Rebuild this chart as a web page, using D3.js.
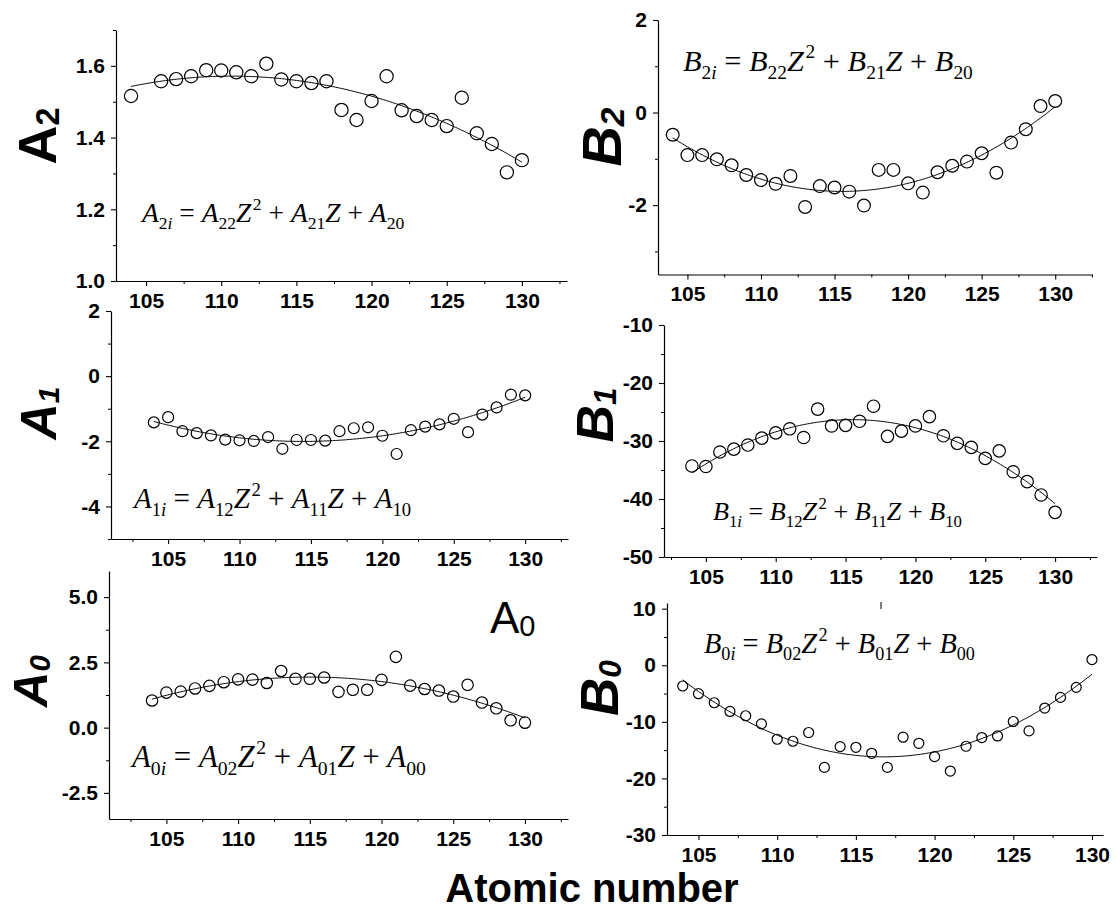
<!DOCTYPE html>
<html>
<head>
<meta charset="utf-8">
<script src="https://cdn.jsdelivr.net/npm/d3@7"></script>
<style>
  body { margin: 0; background: #fff; }
  svg { display: block; }
</style>
</head>
<body>
<svg id="chart" width="1116" height="910"></svg>
<script>
// Atomic numbers of the fitted series
const zFull = [104,105,106,107,108,109,110,111,112,113,114,115,116,117,118,119,120,121,122,123,124,125,126,127,128,129,130];
const zA2   = [104,106,107,108,109,110,111,112,113,114,115,116,117,118,119,120,121,122,123,124,125,126,127,128,129,130];

// Coefficient values per element
const valuesA2 = [1.516,1.557,1.563,1.571,1.588,1.587,1.582,1.571,1.606,1.562,1.557,1.552,1.557,1.477,1.449,1.502,1.571,1.476,1.460,1.449,1.432,1.511,1.412,1.382,1.303,1.337];
const valuesB2 = [-0.48,-0.92,-0.92,-1.01,-1.14,-1.35,-1.46,-1.54,-1.37,-2.04,-1.59,-1.62,-1.71,-2.01,-1.24,-1.24,-1.53,-1.73,-1.29,-1.15,-1.06,-0.88,-1.30,-0.65,-0.36,0.14,0.25];
const valuesA1 = [-1.42,-1.26,-1.69,-1.75,-1.82,-1.95,-1.97,-1.99,-1.87,-2.23,-1.96,-1.96,-1.98,-1.69,-1.60,-1.57,-1.83,-2.39,-1.66,-1.55,-1.48,-1.31,-1.72,-1.18,-0.96,-0.57,-0.59];
const valuesB1 = [-34.3,-34.4,-31.9,-31.4,-30.7,-29.5,-28.6,-27.9,-29.4,-24.5,-27.4,-27.3,-26.6,-24.0,-29.2,-28.3,-27.4,-25.8,-29.1,-30.4,-31.1,-33.0,-31.7,-35.3,-37.0,-39.3,-42.3];
const valuesA0 = [1.04,1.34,1.38,1.50,1.60,1.74,1.85,1.84,1.71,2.17,1.87,1.87,1.92,1.37,1.45,1.45,1.83,2.71,1.61,1.48,1.42,1.19,1.64,0.96,0.74,0.28,0.19];
const valuesB0 = [-3.67,-5.03,-6.63,-8.17,-8.93,-10.36,-13.08,-13.43,-11.89,-18.05,-14.38,-14.50,-15.56,-18.05,-12.72,-13.79,-16.15,-18.70,-14.32,-12.78,-12.49,-9.94,-11.60,-7.57,-5.68,-3.91,1.01];

// Tick labels
const xMajorTicks = [105,110,115,120,125,130];
const xMinorTicks = [102.5,107.5,112.5,117.5,122.5,127.5,132.5];
const yTicksA2 = [1.0,1.2,1.4,1.6];     const yMinorA2 = [1.1,1.3,1.5,1.7];
const yTicksB2 = [-2,0,2];             const yMinorB2 = [-3,-1,1];
const yTicksA1 = [-4,-2,0,2];          const yMinorA1 = [-5,-3,-1,1];
const yTicksB1 = [-50,-40,-30,-20,-10]; const yMinorB1 = [-45,-35,-25,-15];
const yTicksA0 = [-2.5,0.0,2.5,5.0];   const yMinorA0 = [-1.25,1.25,3.75];
const yTicksB0 = [-30,-20,-10,0,10];   const yMinorB0 = [-25,-15,-5,5];

const xTitle = "Atomic number";

const svg = d3.select("#chart");
const SANS = "'Liberation Sans', Arial, Helvetica, sans-serif";
const SERIF = "'Liberation Serif', 'Times New Roman', serif";

// number format with a plain hyphen for negatives
const fmt = spec => d => d3.format(spec)(d).replace("\u2212", "-");

// Least-squares quadratic through (z, v)
function quadFit(zs, vs) {
  const c = 117;
  let S = [[0,0,0],[0,0,0],[0,0,0]], T = [0,0,0];
  zs.forEach((z, i) => {
    const t = z - c, p = [1, t, t * t];
    for (let a = 0; a < 3; a++) {
      T[a] += p[a] * vs[i];
      for (let b = 0; b < 3; b++) S[a][b] += p[a] * p[b];
    }
  });
  const M = S.map((row, i) => row.concat([T[i]]));
  for (let i = 0; i < 3; i++) {
    let piv = i;
    for (let k = i + 1; k < 3; k++) if (Math.abs(M[k][i]) > Math.abs(M[piv][i])) piv = k;
    [M[i], M[piv]] = [M[piv], M[i]];
    for (let k = i + 1; k < 3; k++) {
      const f = M[k][i] / M[i][i];
      for (let j = i; j < 4; j++) M[k][j] -= f * M[i][j];
    }
  }
  const coef = [0,0,0];
  for (let i = 2; i >= 0; i--) {
    let s = M[i][3];
    for (let j = i + 1; j < 3; j++) s -= M[i][j] * coef[j];
    coef[i] = s / M[i][i];
  }
  return z => coef[0] + coef[1] * (z - c) + coef[2] * (z - c) * (z - c);
}

// Equation tokens: X_{ki} = X_{k2} Z^2 + X_{k1} Z + X_{k0}
function eqTokens(sym, k) {
  return [
    {t: sym, it: 1}, {t: k, sub: 1}, {t: "i", sub: 1, it: 1}, {t: " = "},
    {t: sym, it: 1}, {t: k + "2", sub: 1}, {t: "Z", it: 1}, {t: "\u200a2", sup: 1}, {t: " + "},
    {t: sym, it: 1}, {t: k + "1", sub: 1}, {t: "Z", it: 1}, {t: " + "},
    {t: sym, it: 1}, {t: k + "0", sub: 1}
  ];
}

function buildEquation(g, eq, fs) {
  const text = g.append("text")
    .attr("x", eq.x).attr("y", eq.y)
    .attr("font-family", SERIF).attr("font-size", fs)
    .style("white-space", "pre").attr("fill", "#000");
  let cur = 0;
  eqTokens(eq.sym, eq.k).forEach(t => {
    const target = t.sub ? 0.26 * fs : t.sup ? -0.42 * fs : 0;
    text.append("tspan")
      .attr("dy", target - cur)
      .attr("font-size", (t.sub || t.sup) ? fs * 0.64 : fs)
      .attr("font-style", t.it ? "italic" : "normal")
      .text(t.t);
    cur = target;
  });
  return text;
}

const panels = [
  { z: zA2,   v: valuesA2, xDomain: [103,133],   xRange: [116,567],  yDomain: [1.0,1.7], yRange: [281,30],
    yTicks: yTicksA2, yMinor: yMinorA2, yFmt: ".1f", r: 6.6,
    title: {sym: "A", sub: "2", it: false, x: 56, y: 136, fs: 54},
    eq: {sym: "A", k: "2", x: 142, y: 222, w: 265} },
  { z: zFull, v: valuesB2, xDomain: [103,132.5], xRange: [658,1092], yDomain: [-3.5,2],  yRange: [274.5,20],
    yTicks: yTicksB2, yMinor: yMinorB2, yFmt: "d", r: 6.4,
    title: {sym: "B", sub: "2", it: true, x: 621, y: 137, fs: 56},
    eq: {sym: "B", k: "2", x: 683, y: 71, w: 290} },
  { z: zFull, v: valuesA1, xDomain: [101,133],   xRange: [111,568],  yDomain: [-5,2],    yRange: [539,311],
    yTicks: yTicksA1, yMinor: yMinorA1, yFmt: "d", r: 5.5,
    title: {sym: "A", sub: "1", it: true, x: 56, y: 413, fs: 50},
    eq: {sym: "A", k: "1", x: 134, y: 508, w: 280} },
  { z: zFull, v: valuesB1, xDomain: [102,133],   xRange: [664,1097], yDomain: [-50,-10], yRange: [557,325],
    yTicks: yTicksB1, yMinor: yMinorB1, yFmt: "d", r: 6.2,
    title: {sym: "B", sub: "1", it: true, x: 613, y: 415, fs: 52},
    eq: {sym: "B", k: "1", x: 713, y: 520, w: 249} },
  { z: zFull, v: valuesA0, xDomain: [101,133],   xRange: [109,568],  yDomain: [-3.5,6],  yRange: [819,571],
    yTicks: yTicksA0, yMinor: yMinorA0, yFmt: ".1f", r: 5.7,
    title: {sym: "A", sub: "0", it: true, x: 47, y: 681, fs: 49},
    eq: {sym: "A", k: "0", x: 132, y: 767, w: 297} },
  { z: zFull, v: valuesB0, xDomain: [103,130.7], xRange: [667,1103], yDomain: [-30,11],  yRange: [835,603],
    yTicks: yTicksB0, yMinor: yMinorB0, yFmt: "d", r: 5.0,
    title: {sym: "B", sub: "0", it: true, x: 618, y: 688, fs: 53},
    eq: {sym: "B", k: "0", x: 704, y: 653, w: 271} }
];

function styleAxis(sel) {
  sel.select(".domain").attr("stroke", "#000").attr("stroke-width", 1.2);
  sel.selectAll(".tick line").attr("stroke", "#000").attr("stroke-width", 1.1);
  sel.selectAll(".tick text")
    .attr("font-family", SANS).attr("font-weight", "bold").attr("font-size", 21).attr("fill", "#000");
}

panels.forEach(p => {
  const x = d3.scaleLinear().domain(p.xDomain).range(p.xRange);
  const y = d3.scaleLinear().domain(p.yDomain).range(p.yRange);
  const g = svg.append("g");
  const x0 = p.xRange[0], y0 = p.yRange[0];

  // minor ticks
  g.append("g").attr("transform", `translate(0,${y0})`)
    .call(d3.axisBottom(x).tickValues(xMinorTicks.filter(t => t >= p.xDomain[0] && t <= p.xDomain[1]))
      .tickSize(3).tickFormat(""))
    .call(s => { s.select(".domain").remove(); s.selectAll("line").attr("stroke", "#000"); });
  g.append("g").attr("transform", `translate(${x0},0)`)
    .call(d3.axisLeft(y).tickValues(p.yMinor).tickSize(3).tickFormat(""))
    .call(s => { s.select(".domain").remove(); s.selectAll("line").attr("stroke", "#000"); });

  // major axes
  g.append("g").attr("transform", `translate(0,${y0})`)
    .call(d3.axisBottom(x).tickValues(xMajorTicks).tickFormat(fmt("d"))
      .tickSize(5).tickSizeOuter(0).tickPadding(7))
    .call(styleAxis);
  g.append("g").attr("transform", `translate(${x0},0)`)
    .call(d3.axisLeft(y).tickValues(p.yTicks).tickFormat(fmt(p.yFmt))
      .tickSize(5).tickSizeOuter(0).tickPadding(6))
    .call(styleAxis);

  // quadratic fit
  const f = quadFit(p.z, p.v);
  const zs = d3.range(0, 261).map(i => 104 + i * 0.1);
  g.append("path")
    .datum(zs)
    .attr("fill", "none").attr("stroke", "#000").attr("stroke-width", 1)
    .attr("d", d3.line().x(z => x(z)).y(z => y(f(z))));

  // data points
  g.selectAll("circle.pt")
    .data(p.z.map((z, i) => ({z, v: p.v[i]})))
    .join("circle").attr("class", "pt")
    .attr("cx", d => x(d.z)).attr("cy", d => y(d.v)).attr("r", p.r)
    .attr("fill", "none").attr("stroke", "#000").attr("stroke-width", 1.2);

  // equation, sized to its panel
  let eqText = buildEquation(g, p.eq, 20);
  const w = eqText.node().getBBox().width;
  eqText.remove();
  buildEquation(g, p.eq, 20 * p.eq.w / w);

  // rotated axis title
  const t = g.append("text")
    .attr("transform", `translate(${p.title.x},${p.title.y}) rotate(-90)`)
    .attr("text-anchor", "middle")
    .attr("font-family", SANS).attr("font-weight", "bold").attr("font-size", p.title.fs)
    .attr("font-style", p.title.it ? "italic" : "normal").attr("fill", "#000");
  t.append("tspan").text(p.title.sym);
  t.append("tspan").attr("font-size", p.title.fs * 0.6).attr("dy", 3).text(p.title.sub);
});

// panel annotation
const ann = svg.append("text").attr("x", 490).attr("y", 633)
  .attr("font-family", SANS).attr("font-size", 44).attr("fill", "#000");
ann.append("tspan").text("A");
ann.append("tspan").attr("font-size", 29).attr("dy", 3).text("0");

// small stray tick above the B0 panel
svg.append("line").attr("x1", 881).attr("x2", 881).attr("y1", 602).attr("y2", 609)
  .attr("stroke", "#000").attr("stroke-width", 1);

// shared x-axis title
svg.append("text").attr("x", 592).attr("y", 902).attr("text-anchor", "middle")
  .attr("font-family", SANS).attr("font-weight", "bold").attr("font-size", 40)
  .attr("fill", "#000").text(xTitle);
</script>
</body>
</html>
